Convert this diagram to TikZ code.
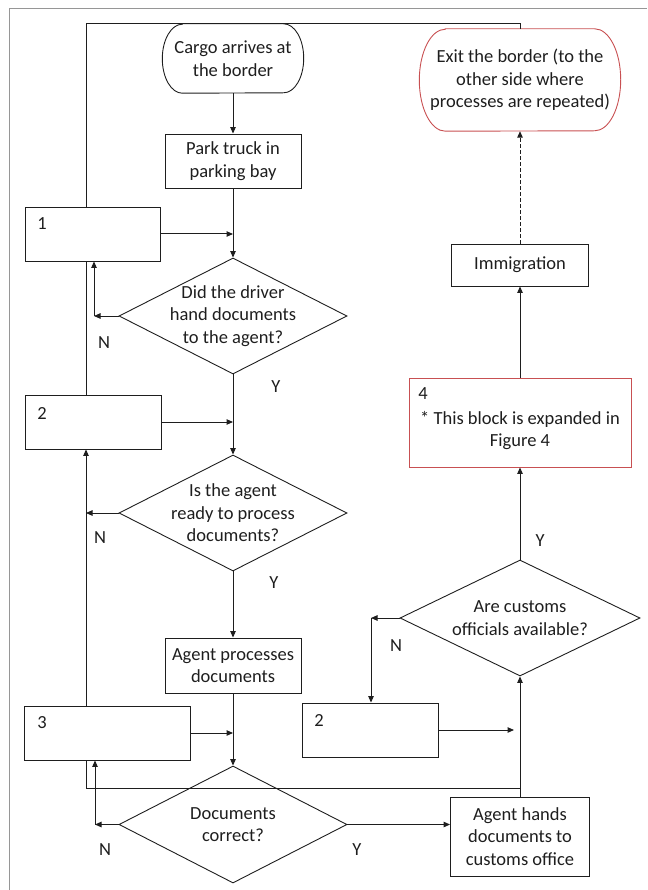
\documentclass[tikz,border=0pt]{standalone}
\usepackage{fontspec}
\setmainfont{Carlito}
\usetikzlibrary{arrows.meta,shapes.geometric}
\definecolor{ink}{RGB}{30,30,30}
\definecolor{boxred}{RGB}{200,80,82}
\definecolor{framegray}{RGB}{150,150,150}
\begin{document}
\begin{tikzpicture}[x=1pt,y=-1pt,
  every node/.style={font=\fontsize{18.5}{22.5}\selectfont, text=ink},
  flow/.style={draw=ink, line width=1pt},
  arr/.style={flow, -{Triangle[length=6.5pt,width=5.5pt]}},
  procbox/.style={draw=ink, line width=0.9pt, rectangle, align=center, inner sep=0pt},
  decision/.style={draw=ink, line width=0.9pt, diamond, inner sep=0pt,
    minimum width=228pt, minimum height=116pt},
  terminal/.style={rectangle, inner sep=0pt, align=center},
  outline/.style={draw=ink, line width=0.9pt},
  body/.style={align=center, inner sep=0pt},
  tag/.style={inner sep=0pt}
]
\useasboundingbox (0,0) rectangle (647,890);

% page frame
\draw[framegray, line width=1.6pt] (9.3,890) -- (9.3,8.5) -- (647,8.5);

% ---------- left column ----------
\node[terminal, minimum width=141pt, minimum height=69pt] (start) at (233,58.5) {Cargo arrives at\\the border};
% terminal outline with elliptic ends
\draw[outline] ([xshift=20pt]start.north west) -- ([xshift=-20pt]start.north east)
  arc[start angle=90, end angle=-90, x radius=20pt, y radius=34.5pt]
  -- ([xshift=20pt]start.south west)
  arc[start angle=270, end angle=90, x radius=20pt, y radius=34.5pt] -- cycle;

\node[procbox, minimum width=136pt, minimum height=54pt] (park) at (233,161) {Park truck in\\parking bay};

\node[procbox, minimum width=135pt, minimum height=54pt] (box1) at (92.5,234) {};
\node[tag] at (42,224) {1};

\node[decision] (d1) at (233,316) {};
\node[body] at (d1) {Did the driver\\hand documents\\to the agent?};

\node[procbox, minimum width=136pt, minimum height=54pt] (box2) at (93,422) {};
\node[tag] at (42,413) {2};

\node[decision] (d2) at (233,513) {};
\node[body] at (d2) {Is the agent\\ready to process\\documents?};

\node[procbox, minimum width=136pt, minimum height=55pt] (proc) at (233,665.5) {Agent processes\\documents};

\node[procbox, minimum width=166pt, minimum height=54pt] (box3) at (107,733) {};
\node[tag] at (42,723) {3};

\node[decision, minimum height=117pt] (d3) at (233,824.5) {};
\node[body] at (d3) {Documents\\correct?};

% ---------- right column ----------
\node[procbox, minimum width=139pt, minimum height=79pt] (hands) at (520,836.5) {Agent hands\\documents to\\customs office};

\node[procbox, minimum width=136pt, minimum height=54pt] (box2b) at (370,730) {};
\node[tag] at (319,720) {2};

\node[decision, minimum width=240pt] (d4) at (520,618) {};
\node[body] at (d4) {Are customs\\officials available?};

\node[procbox, draw=boxred, minimum width=222pt, minimum height=89pt] (box4) at (520,422.5) {};
\node[tag] at (423,394) {4};
\node[body] at (520,430.5) {* This block is expanded in\\Figure 4};

\node[procbox, minimum width=137pt, minimum height=42pt] (immig) at (520,265) {Immigration};

\node[terminal, minimum width=201pt, minimum height=102pt] (exit) at (520,80) {Exit the border (to the\\other side where\\processes are repeated)};
\draw[outline, draw=boxred] ([xshift=26pt]exit.north west) -- ([xshift=-26pt]exit.north east)
  arc[start angle=90, end angle=-90, x radius=26pt, y radius=51pt]
  -- ([xshift=26pt]exit.south west)
  arc[start angle=270, end angle=90, x radius=26pt, y radius=51pt] -- cycle;

% ---------- helper points ----------
\coordinate (top) at (86,24);
\coordinate (low) at (86,788);
\coordinate (n1) at (94,316);
\coordinate (n3) at (95,824.5);
\coordinate (n4) at (371,618);
\coordinate (j2) at (514,730);

% ---------- main flow ----------
\draw[arr] (start) -- (park);
\draw[arr] (park) -- (d1);
\draw[arr] (box1.east) -- (box1.east -| park.south);
\draw[arr] (d1) -- (d2);
\draw[arr] (box2.east) -- (box2.east -| d1.south);
\draw[arr] (d2) -- (proc);
\draw[arr] (proc) -- (d3);
\draw[arr] (box3.east) -- (box3.east -| proc.south);
\draw[arr] (d3.east) -- (d3.east -| hands.west);
\draw[arr] (hands) -- (d4);
\draw[arr] (box2b.east) -- (j2);
\draw[arr] (d4) -- (box4);
\draw[arr] (box4) -- (immig);
\draw[arr, dash pattern=on 4pt off 2pt] (immig) -- (exit);

% ---------- "No" branches ----------
\draw[arr] (d1.west) -- (n1);
\draw[arr] (n1) -- (n1 |- box1.south);
\draw[arr] (d2.west) -- (d2.west -| top);
\draw[arr] (d3.west) -- (n3);
\draw[arr] (n3) -- (n3 |- box3.south);
\draw[arr] (d4.west) -- (n4);
\draw[arr] (n4) -- (n4 |- box2b.north);

% ---------- return lines ----------
\draw[flow] (box1.north -| top) -- (top) -| (exit.north);
\draw[flow] (box2.north -| top) -- (box1.south -| top);
\draw[arr] (box3.north -| top) -- (box2.south -| top);
\draw[flow] (box3.south -| low) -- (low) -- (low -| d4.south);

% ---------- branch labels ----------
\node[tag] at (104,343) {N};
\node[tag] at (276,387) {Y};
\node[tag] at (100,538) {N};
\node[tag] at (274,583) {Y};
\node[tag] at (105,850) {N};
\node[tag] at (357,850) {Y};
\node[tag] at (540,541) {Y};
\node[tag] at (396,646) {N};
\end{tikzpicture}
\end{document}
